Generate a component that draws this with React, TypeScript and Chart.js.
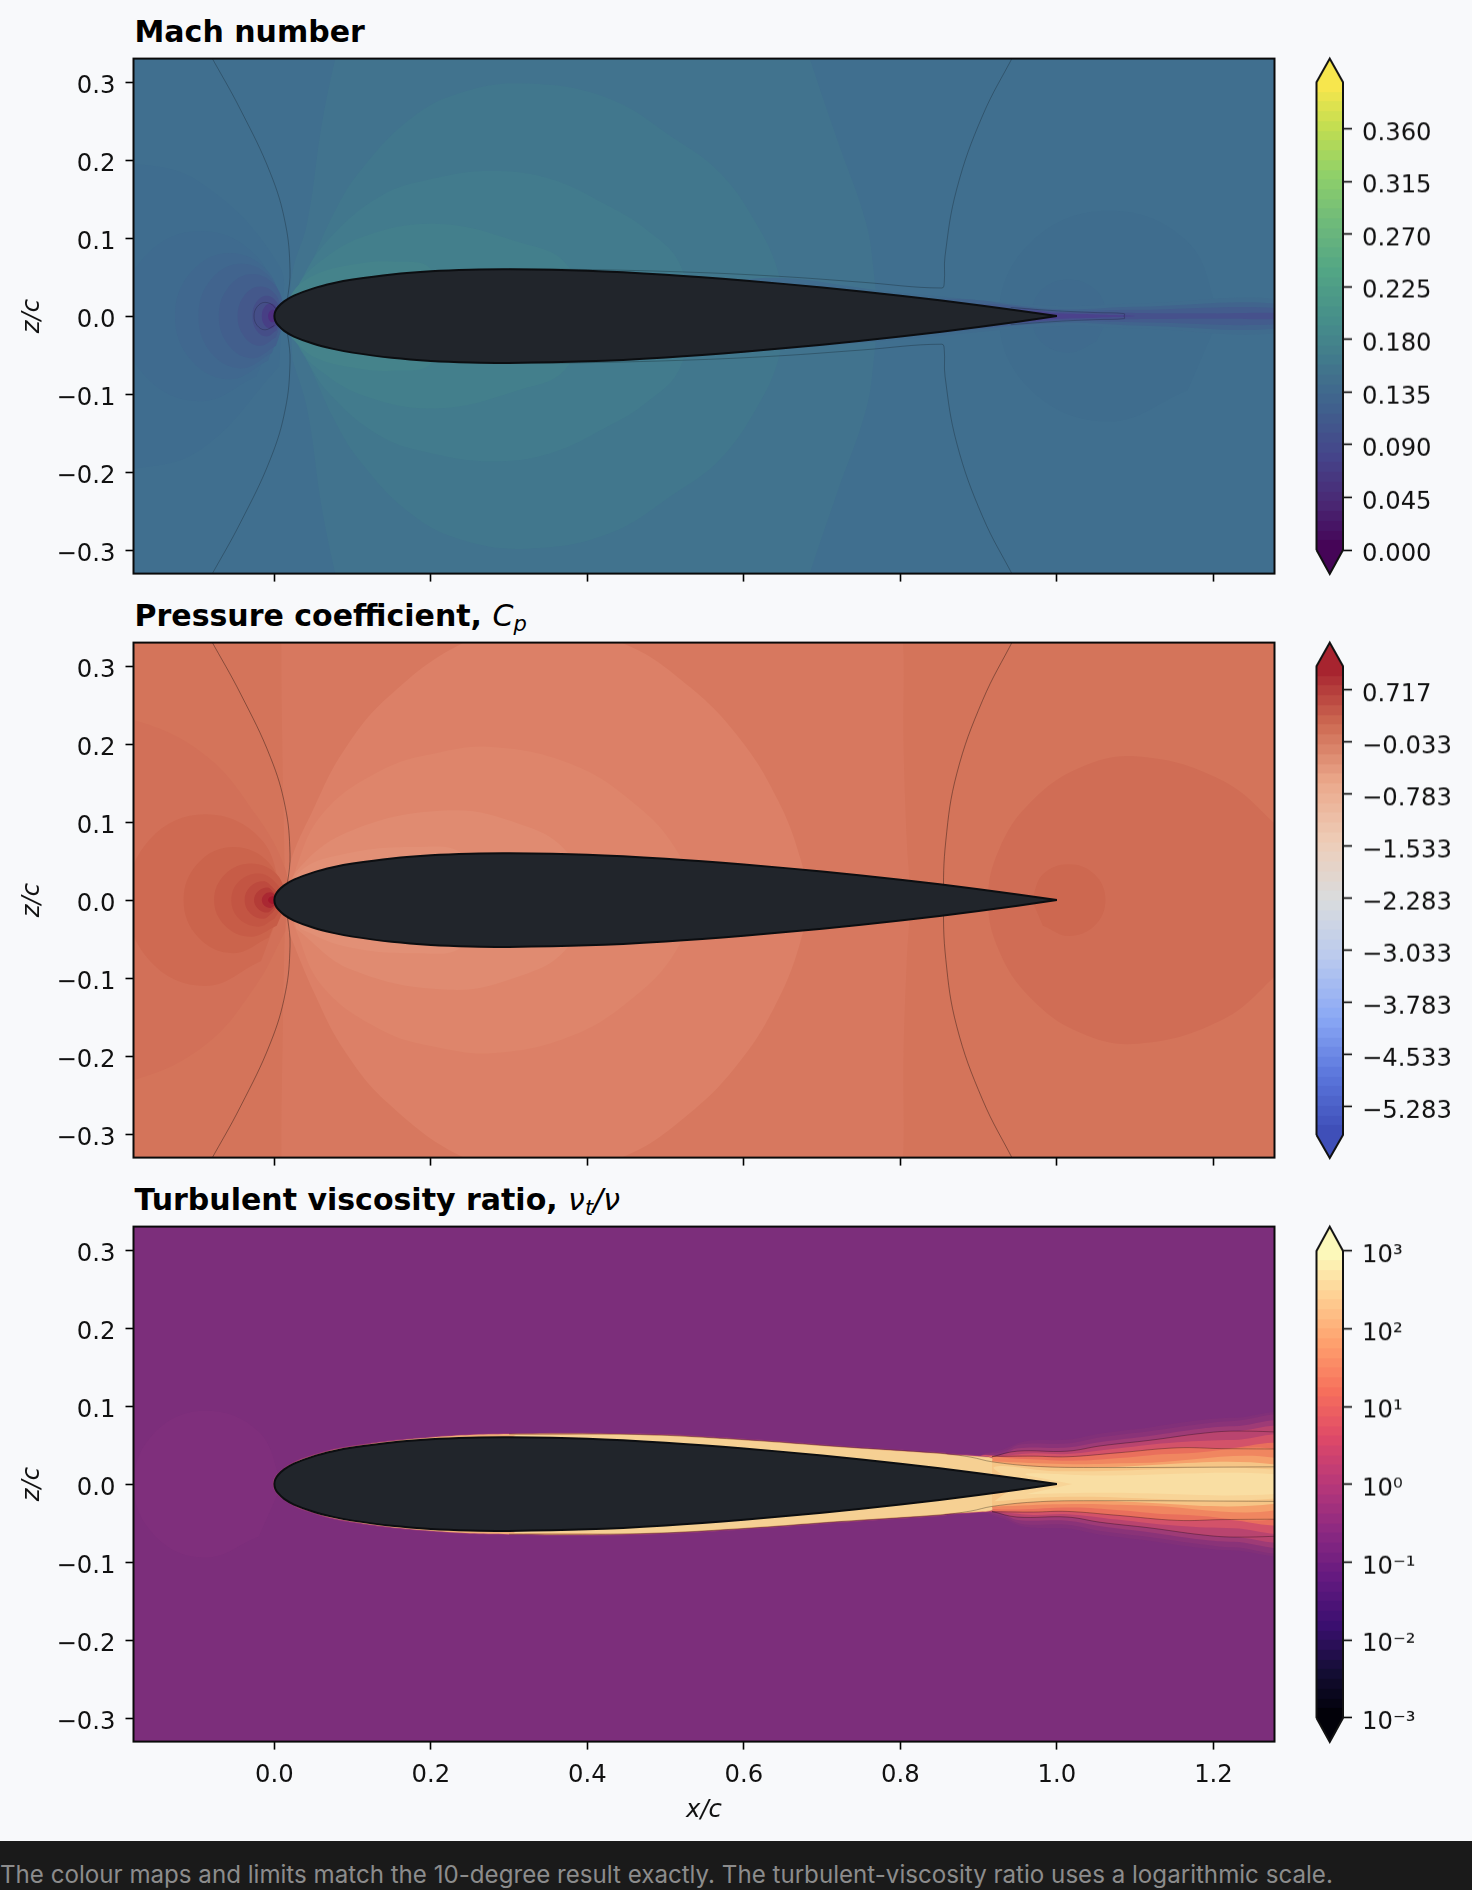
import React, { useEffect, useRef } from "react";
import { Chart, registerables } from "chart.js";

Chart.register(...registerables);
Chart.defaults.font.family = "'DejaVu Sans'";

type Pt = [number, number];

const xTicks = [0, 0.2, 0.4, 0.6, 0.8, 1.0, 1.2];
const zTicks = [-0.3, -0.2, -0.1, 0, 0.1, 0.2, 0.3];

// half of the section, trailing edge round to the nose
const foilUpper: Pt[] = [
  [1.0, 0], [0.9, 0.014], [0.8, 0.0262], [0.7, 0.0366], [0.6, 0.0456], [0.5, 0.0529],
  [0.4, 0.058], [0.3, 0.06], [0.25, 0.0594], [0.2, 0.0574], [0.15, 0.0534], [0.1, 0.0468], [0.075, 0.042],
  [0.05, 0.0355], [0.025, 0.0262], [0.0125, 0.0189], [0.005, 0.012], [0.0012, 0.006], [0, 0],
];

// thin contour lines, shared by the Mach and Cp panels
const frontLine: Pt[] = [[-0.082, 0.335], [-0.043, 0.264], [-0.005, 0.183], [0.014, 0.119], [0.02, 0.059], [0.017, 0.024], [0.012, 0]];
const rearLineCp: Pt[] = [[0.945, 0.335], [0.905, 0.256], [0.872, 0.162], [0.858, 0.076], [0.855, 0]];
const rearLineMach: Pt[] = [
  [0.945, 0.335], [0.905, 0.257], [0.872, 0.163], [0.857, 0.077], [0.856, 0.043], [0.853, 0.036],
  [0.75, 0.0435], [0.644, 0.051], [0.522, 0.0566], [0.38, 0.06], [0.3, 0.0605],
];
const machWedgeLine: Pt[] = [[0.941, 0.011], [1.0, 0.0068], [1.05, 0.0045], [1.086, 0.0032], [1.086, 0]];
const machNoseRing: Pt[] = [[0.004, 0], [0.0, 0.012], [-0.012, 0.0176], [-0.022, 0.012], [-0.026, 0]];

// Mach number field
const machBase = "#406f8f";
const machZone1: Pt[] = [[0.02, 0], [0.023, 0.056], [0.042, 0.12], [0.061, 0.248], [0.08, 0.34], [0.09, 0.38], [0.67, 0.38], [0.681, 0.34], [0.719, 0.227], [0.756, 0.12], [0.766, 0.056], [0.77, 0]];
const machZone2: Pt[] = [[0.02, 0], [0.031, 0.034], [0.051, 0.077], [0.075, 0.13], [0.108, 0.184], [0.174, 0.253], [0.24, 0.287], [0.324, 0.298], [0.427, 0.279], [0.512, 0.227], [0.569, 0.184], [0.615, 0.12], [0.644, 0.056], [0.65, 0]];
const machZone3: Pt[] = [[0.02, 0], [0.033, 0.043], [0.07, 0.099], [0.136, 0.154], [0.202, 0.176], [0.277, 0.186], [0.352, 0.176], [0.427, 0.141], [0.475, 0.111], [0.517, 0.069], [0.53, 0]];
const machZone4: Pt[] = [[0.02, 0], [0.028, 0.034], [0.051, 0.064], [0.117, 0.103], [0.211, 0.118], [0.315, 0.094], [0.371, 0.069], [0.4, 0]];
const machZone5: Pt[] = [[0.02, 0], [0.022, 0.028], [0.05, 0.052], [0.1, 0.066], [0.15, 0.07], [0.2, 0.06], [0.2, 0]];
const machArc0: Pt[] = [[0.01, 0], [0.006, 0.065], [-0.094, 0.171], [-0.184, 0.196], [-0.3, 0.2], [-0.3, 0]];
const machArc1: Pt[] = [[0.01, 0], [-0.023, 0.077], [-0.094, 0.109], [-0.165, 0.077], [-0.194, 0]];
const machArc2: Pt[] = [[0.013, 0], [-0.008, 0.057], [-0.057, 0.081], [-0.106, 0.057], [-0.127, 0]];
const machArc3: Pt[] = [[0.013, 0], [-0.003, 0.047], [-0.042, 0.067], [-0.081, 0.047], [-0.097, 0]];
const machArc4: Pt[] = [[0.015, 0], [0.002, 0.038], [-0.028, 0.054], [-0.058, 0.038], [-0.071, 0]];
const machArc5: Pt[] = [[0.011, 0], [0.002, 0.027], [-0.018, 0.038], [-0.038, 0.027], [-0.047, 0]];
const machArc6: Pt[] = [[0.008, 0], [0.003, 0.018], [-0.01, 0.026], [-0.023, 0.018], [-0.028, 0]];
const machArc7: Pt[] = [[0.006, 0], [0.003, 0.011], [-0.005, 0.016], [-0.013, 0.011], [-0.016, 0]];
const machArc8: Pt[] = [[0.004, 0], [0.002, 0.006], [-0.002, 0.008], [-0.006, 0.006], [-0.008, 0]];
const machRearBig: Pt[] = [[1.208, 0], [1.167, 0.095], [1.067, 0.135], [0.967, 0.095], [0.926, 0]];
const machRearSmall: Pt[] = [[1.067, 0], [1.05, 0.033], [1.015, 0.047], [0.98, 0.033], [0.968, 0]];
const machWake0: Pt[] = [[0.6, 0], [0.6, 0.0465], [0.8, 0.03], [1.0, 0.013], [1.1, 0.016], [1.3, 0.019]];
const machWake1: Pt[] = [[0.8, 0], [0.85, 0.022], [1.0, 0.009], [1.1, 0.012], [1.3, 0.014]];
const machWake2: Pt[] = [[0.9, 0], [0.9, 0.015], [1.0, 0.0065], [1.1, 0.008], [1.3, 0.009]];
const machWake3: Pt[] = [[0.95, 0], [0.95, 0.009], [1.0, 0.0055], [1.1, 0.004], [1.2, 0.0035], [1.3, 0.003]];
const machWake4: Pt[] = [[0.97, 0], [0.97, 0.006], [1.0, 0.0035], [1.05, 0.002], [1.1, 0]];
const machShapes = [machZone1, machZone2, machZone3, machZone4, machZone5, machArc0, machArc1, machArc2, machArc3, machArc4, machArc5, machArc6, machArc7, machArc8, machRearBig, machRearSmall, machWake0, machWake1, machWake2, machWake3, machWake4];
const machFills = ["#41738e", "#41778d", "#427b8d", "#437f8c", "#45838b", "#3f6d8f", "#3f6b8f", "#40688f", "#41648e", "#425f8d", "#44588b", "#454e88", "#473f85", "#4e2e80", "#3f6d8e", "#3f6b8e", "#406c8e", "#41648d", "#435c8d", "#46518c", "#4b428c"];

// Pressure coefficient field
const cpBase = "#d4745a";
const cpZone1: Pt[] = [[0.013, 0], [0.013, 0.05], [0.011, 0.15], [0.009, 0.34], [0.012, 0.38], [0.795, 0.38], [0.803, 0.34], [0.804, 0.2], [0.808, 0.08], [0.812, 0]];
const cpZone2: Pt[] = [[0.018, 0], [0.0185, 0.0416], [0.051, 0.119], [0.089, 0.192], [0.145, 0.26], [0.24, 0.329], [0.333, 0.354], [0.446, 0.329], [0.531, 0.273], [0.597, 0.204], [0.644, 0.127], [0.672, 0.054], [0.681, 0]];
const cpZone3: Pt[] = [[0.02, 0], [0.025, 0.033], [0.061, 0.11], [0.136, 0.166], [0.205, 0.188], [0.282, 0.196], [0.38, 0.174], [0.456, 0.127], [0.512, 0.067], [0.535, 0]];
const cpZone4: Pt[] = [[0.02, 0], [0.028, 0.037], [0.098, 0.089], [0.225, 0.115], [0.315, 0.097], [0.371, 0.065], [0.404, 0]];
const cpZone5: Pt[] = [[0.02, 0], [0.033, 0.037], [0.089, 0.059], [0.178, 0.068], [0.24, 0.059], [0.25, 0]];
const cpArc0: Pt[] = [[0.016, 0], [0.014, 0.04], [-0.024, 0.11], [-0.09, 0.187], [-0.184, 0.232], [-0.3, 0.25], [-0.3, 0]];
const cpArc1: Pt[] = [[0.012, 0], [-0.017, 0.078], [-0.088, 0.11], [-0.159, 0.078], [-0.188, 0]];
const cpArc2: Pt[] = [[0.012, 0], [-0.007, 0.048], [-0.052, 0.068], [-0.097, 0.048], [-0.116, 0]];
const cpArc3: Pt[] = [[0.017, 0], [0.003, 0.033], [-0.03, 0.047], [-0.063, 0.033], [-0.077, 0]];
const cpArc4: Pt[] = [[0.015, 0], [0, 0.024], [-0.02, 0.034], [-0.045, 0.024], [-0.055, 0]];
const cpArc5: Pt[] = [[0.01, 0], [-0.003, 0.017], [-0.014, 0.024], [-0.031, 0.017], [-0.038, 0]];
const cpArc6: Pt[] = [[0.008, 0], [-0.002, 0.011], [-0.009, 0.016], [-0.021, 0.011], [-0.026, 0]];
const cpArc7: Pt[] = [[0.006, 0], [0, 0.007], [-0.005, 0.01], [-0.013, 0.007], [-0.016, 0]];
const cpArc8: Pt[] = [[0.004, 0], [0.001, 0.0035], [-0.002, 0.005], [-0.006, 0.0035], [-0.008, 0]];
const cpRearBig: Pt[] = [[1.33, 0], [1.316, 0.05], [1.274, 0.102], [1.208, 0.155], [1.104, 0.184], [1.03, 0.17], [0.966, 0.125], [0.926, 0.065], [0.912, 0]];
const cpRearSmall: Pt[] = [[0.968, 0], [0.982, 0.033], [1.015, 0.046], [1.048, 0.033], [1.062, 0]];
const cpShapes = [cpZone1, cpZone2, cpZone3, cpZone4, cpZone5, cpArc0, cpArc1, cpArc2, cpArc3, cpArc4, cpArc5, cpArc6, cpArc7, cpArc8, cpRearBig, cpRearSmall];
const cpFills = ["#d7785f", "#dc8067", "#de856b", "#e08b71", "#e29076", "#d27058", "#cf6a52", "#cb644c", "#c75c47", "#c35543", "#bd4a3e", "#b43c37", "#aa2832", "#a4172c", "#d06d55", "#cd6850"];

// Turbulent viscosity ratio field
const nutBase = "#7c2e7b";
const nutNose: Pt[] = [[0.01, 0], [-0.02, 0.067], [-0.088, 0.094], [-0.152, 0.067], [-0.18, 0]];
const nutFade1: Pt[] = [[0.9, 0], [0.9, 0.034], [0.93, 0.044], [0.96, 0.055], [1.013, 0.057], [1.056, 0.065], [1.12, 0.073], [1.184, 0.082], [1.226, 0.085], [1.3, 0.083]];
const nutFade2: Pt[] = [[0.9, 0], [0.9, 0.034], [0.93, 0.041], [0.955, 0.051], [1.013, 0.052], [1.056, 0.06], [1.12, 0.068], [1.184, 0.077], [1.226, 0.081], [1.3, 0.08]];
const nutFade3: Pt[] = [[0.9, 0], [0.9, 0.034], [0.93, 0.038], [0.95, 0.046], [1.013, 0.047], [1.056, 0.054], [1.12, 0.062], [1.184, 0.071], [1.226, 0.074], [1.3, 0.073]];
const nutLevel1: Pt[] = [[0.9, 0], [0.9, 0.034], [0.917, 0.035], [0.949, 0.0422], [1.013, 0.0422], [1.056, 0.049], [1.12, 0.0563], [1.184, 0.0649], [1.226, 0.0679], [1.3, 0.0662]];
const nutMid1: Pt[] = [[0.9, 0], [0.9, 0.034], [0.93, 0.036], [0.97, 0.0395], [1.013, 0.0385], [1.077, 0.0455], [1.154, 0.0535], [1.226, 0.0565], [1.3, 0.0555]];
const nutLevel2: Pt[] = [[0.9, 0], [0.9, 0.034], [0.917, 0.0345], [0.97, 0.0358], [1.013, 0.035], [1.077, 0.04], [1.154, 0.0465], [1.21, 0.0455], [1.3, 0.0448]];
const nutMid2: Pt[] = [[0.9, 0], [0.9, 0.032], [0.95, 0.0325], [1.02, 0.03], [1.08, 0.0335], [1.154, 0.039], [1.3, 0.037]];
const nutMid3: Pt[] = [[0.9, 0], [0.9, 0.03], [0.93, 0.0285], [1.02, 0.0255], [1.1, 0.027], [1.3, 0.029]];
const nutLevel3: Pt[] = [[0.864, 0], [0.864, 0.035], [0.917, 0.0286], [0.97, 0.023], [1.034, 0.0213], [1.3, 0.0222]];
const nutEdge: Pt[] = [[0.917, 0], [0.917, 0.031], [0.917, 0.0345], [0.9, 0.0368], [0.864, 0.0392], [0.851, 0.0408], [0.7236, 0.0493], [0.596, 0.0585], [0.468, 0.0648], [0.3, 0.0652], [0.2, 0.0608], [0.1, 0.0495], [0.05, 0.0378], [0.0125, 0.0208], [-0.002, 0]];
const nutSkin: Pt[] = [[0.917, 0], [0.917, 0.03], [0.917, 0.0338], [0.9, 0.0358], [0.864, 0.038], [0.851, 0.0395], [0.7236, 0.048], [0.596, 0.0572], [0.468, 0.0635], [0.3, 0.0642], [0.2, 0.0598], [0.1, 0.0482], [0.05, 0.0365], [0.0125, 0.0195], [-0.0005, 0]];
const nutCream: Pt[] = [[0.917, 0], [0.917, 0.029], [0.917, 0.0328], [0.9, 0.0348], [0.864, 0.037], [0.851, 0.0385], [0.7236, 0.047], [0.596, 0.0562], [0.468, 0.0626], [0.33, 0.0628], [0.312, 0.0628], [0.306, 0.0615], [0.304, 0.055], [0.302, 0.04], [0.3, 0]];
const nutCore1: Pt[] = [[0.95, 0], [0.92, 0.022], [1.0, 0.0165], [1.3, 0.0165]];
const nutCore2: Pt[] = [[1.02, 0], [0.96, 0.013], [1.05, 0.011], [1.3, 0.011]];
const nutShapes = [nutNose, nutFade1, nutFade2, nutFade3, nutLevel1, nutMid1, nutLevel2, nutMid2, nutMid3, nutLevel3, nutEdge, nutSkin, nutCream, nutCore1, nutCore2];
const nutFills = ["#7f2f7c", "#813079", "#8a3378", "#9e3b76", "#b9446f", "#d35269", "#e96f5c", "#f08660", "#f5a06b", "#f6c586", "#a03c77", "#eeae76", "#f6d093", "#f8d497", "#f9dea3"];
const nutLine1: Pt[] = [[0.917, 0.035], [0.949, 0.0422], [1.013, 0.0422], [1.056, 0.049], [1.12, 0.0563], [1.184, 0.0649], [1.226, 0.0679], [1.3, 0.0662]];
const nutLine2: Pt[] = [[0.917, 0.0355], [0.97, 0.0358], [1.013, 0.035], [1.077, 0.04], [1.154, 0.0465], [1.21, 0.0455], [1.3, 0.0448]];
const nutLine3: Pt[] = [[0.3, 0.0642], [0.468, 0.0635], [0.596, 0.0572], [0.7236, 0.048], [0.851, 0.0395], [0.89, 0.0345], [0.917, 0.0286], [0.97, 0.023], [1.034, 0.0213], [1.3, 0.0222]];

// colour bars
const machBarTicks = [0, 0.045, 0.09, 0.135, 0.18, 0.225, 0.27, 0.315, 0.36];
const machBarLabels = ["0.000", "0.045", "0.090", "0.135", "0.180", "0.225", "0.270", "0.315", "0.360"];
const machBarRange = { tipLow: -0.0205, low: 0, high: 0.4, tipHigh: 0.42 };
const cpBarTicks = [-5.283, -4.533, -3.783, -3.033, -2.283, -1.533, -0.783, -0.033, 0.717];
const cpBarLabels = ["\u22125.283", "\u22124.533", "\u22123.783", "\u22123.033", "\u22122.283", "\u22121.533", "\u22120.783", "\u22120.033", "0.717"];
const cpBarRange = { tipLow: -6.02, low: -5.69, high: 1.057, tipHigh: 1.394 };
const nutBarTicks = [0.001, 0.01, 0.1, 1, 10, 100, 1000];
const nutBarLabels = ["10\u207B\u00B3", "10\u207B\u00B2", "10\u207B\u00B9", "10\u2070", "10\u00B9", "10\u00B2", "10\u00B3"];
const nutBarRange = { tipLow: 0.00049, low: 0.001, high: 1000, tipHigh: 2042 };

const viridisStops = ["#440154", "#4a2874", "#45458a", "#405f8d", "#41788c", "#47908a", "#53a685", "#6fba7a", "#8fd06a", "#c0dd51", "#fde74c"];
const coolwarmStops = ["#3d4bb5", "#5a75db", "#8aa8f5", "#b9c9ee", "#d9dcde", "#eecdb8", "#eba98c", "#cd6a52", "#a41e2c"];
const magmaStops = ["#000004", "#140e36", "#3b0f70", "#641a80", "#8c2981", "#b73779", "#de4968", "#f7705c", "#fe9f6d", "#fecf92", "#fcfdbf"];

const AREA_H = 515;
const PAD_TOP = 58.6;
const PAD_BOTTOM = 26;
const TICK_FONT = { size: 24.3, lineHeight: 0.4 };

const toXY = (pts: Pt[]) => pts.map(([x, y]) => ({ x, y }));
const flip = (pts: Pt[]): Pt[] => pts.map(([x, y]) => [x, -y] as Pt);
// upper half plus its reflection, as one closed outline
const both = (upper: Pt[]): Pt[] => [...upper, ...flip([...upper].reverse().filter((p) => p[1] !== 0))];

function region(pts: Pt[], color: string) {
  return {
    data: toXY(both(pts)),
    showLine: true,
    fill: "shape",
    tension: 0.4,
    backgroundColor: color,
    borderColor: "transparent",
    borderWidth: 0,
    pointRadius: 0,
  };
}

function contour(pts: Pt[], alpha: number) {
  return {
    data: toXY(pts),
    showLine: true,
    fill: false,
    tension: 0.4,
    borderColor: `rgba(0,0,0,${alpha})`,
    borderWidth: 1,
    pointRadius: 0,
  };
}

function foilDataset() {
  return {
    data: toXY([...both(foilUpper), foilUpper[0]]),
    showLine: true,
    fill: "shape",
    tension: 0.35,
    backgroundColor: "#21252b",
    borderColor: "#0c0e11",
    borderWidth: 2,
    pointRadius: 0,
  };
}

function hexToRgb(hex: string) {
  return [1, 3, 5].map((i) => parseInt(hex.slice(i, i + 2), 16));
}

function sampleStops(stops: string[], t: number) {
  const pos = Math.min(Math.max(t, 0), 1) * (stops.length - 1);
  const i = Math.min(Math.floor(pos), stops.length - 2);
  const a = hexToRgb(stops[i]);
  const b = hexToRgb(stops[i + 1]);
  const c = a.map((v, k) => Math.round(v + (b[k] - v) * (pos - i)));
  return `rgb(${c[0]},${c[1]},${c[2]})`;
}

function FieldChart(props: {
  top: number;
  height: number;
  base: string;
  datasets: any[];
  labelled?: boolean;
}) {
  const ref = useRef<HTMLCanvasElement | null>(null);

  useEffect(() => {
    if (!ref.current) return;
    const { base, datasets, labelled, height } = props;
    const total = datasets.length;
    const chart = new Chart(ref.current, {
      type: "scatter",
      data: { datasets: datasets.map((d, i) => ({ ...d, order: total - i })) },
      options: {
        responsive: false,
        animation: false,
        events: [],
        layout: { autoPadding: false, padding: { top: PAD_TOP, right: 15.5, left: 0, bottom: 0 } },
        plugins: { legend: { display: false }, tooltip: { enabled: false } },
        scales: {
          x: {
            type: "linear",
            min: -0.18,
            max: 1.278,
            afterBuildTicks: (s: any) => {
              s.ticks = xTicks.map((value) => ({ value }));
            },
            afterFit: (s: any) => {
              s.height = height - PAD_TOP - AREA_H;
            },
            border: { display: false },
            grid: { drawOnChartArea: false, color: "#000", tickLength: 8, tickWidth: 1.6 },
            ticks: {
              display: !!labelled,
              autoSkip: false,
              maxRotation: 0,
              padding: 11,
              color: "#111",
              font: { size: 24.3 },
              callback: (v: any) => Number(v).toFixed(1),
            },
            title: {
              display: !!labelled,
              text: "x/c",
              color: "#111",
              padding: { top: 4, bottom: 16 },
              font: { size: 24.3, style: "italic" },
            },
          },
          y: {
            type: "linear",
            min: -0.33,
            max: 0.33,
            afterBuildTicks: (s: any) => {
              s.ticks = zTicks.map((value) => ({ value }));
            },
            afterFit: (s: any) => {
              s.width = 133.5;
            },
            border: { display: false },
            grid: { drawOnChartArea: false, color: "#000", tickLength: 8, tickWidth: 1.6 },
            ticks: {
              autoSkip: false,
              padding: 10,
              color: "#111",
              font: TICK_FONT,
              // empty first line: drops the text to where matplotlib centres it
              callback: (v: any) => ["", Number(v).toFixed(1).replace("-", "\u2212")],
            },
            title: {
              display: true,
              text: "z/c",
              color: "#111",
              padding: { top: 18, bottom: 0 },
              font: { size: 24.3, style: "italic" },
            },
          },
        },
      } as any,
      plugins: [
        {
          id: "fieldFrame",
          beforeDatasetsDraw(c: any) {
            const a = c.chartArea;
            c.ctx.save();
            c.ctx.fillStyle = base;
            c.ctx.fillRect(a.left, a.top, a.width, a.height);
            c.ctx.restore();
          },
          afterDraw(c: any) {
            const a = c.chartArea;
            c.ctx.save();
            c.ctx.strokeStyle = "#0a0a0a";
            c.ctx.lineWidth = 2;
            c.ctx.strokeRect(a.left, a.top, a.width, a.height);
            c.ctx.restore();
          },
        },
      ],
    });
    return () => chart.destroy();
  }, []);

  return (
    <canvas
      ref={ref}
      width={1290}
      height={props.height}
      style={{ position: "absolute", left: 0, top: props.top, width: 1290, height: props.height }}
    />
  );
}

function ColorBar(props: {
  top: number;
  ticks: number[];
  labels: string[];
  range: { tipLow: number; low: number; high: number; tipHigh: number };
  stops: string[];
  log?: boolean;
}) {
  const ref = useRef<HTMLCanvasElement | null>(null);

  useEffect(() => {
    if (!ref.current) return;
    const { ticks, labels, range, stops, log } = props;
    const outline = [
      { x: 0, y: range.low },
      { x: 0, y: range.high },
      { x: 0.5, y: range.tipHigh },
      { x: 1, y: range.high },
      { x: 1, y: range.low },
      { x: 0.5, y: range.tipLow },
      { x: 0, y: range.low },
    ];
    const chart = new Chart(ref.current, {
      type: "scatter",
      data: {
        datasets: [
          {
            data: outline,
            showLine: true,
            fill: "shape",
            clip: false,
            tension: 0,
            borderColor: "#111",
            borderWidth: 2,
            pointRadius: 0,
            backgroundColor: (ctx: any) => {
              const y = ctx.chart.scales.y;
              if (!y || !ctx.chart.chartArea) return stops[0];
              const g = ctx.chart.ctx.createLinearGradient(0, y.getPixelForValue(range.low), 0, y.getPixelForValue(range.high));
              const n = 48;
              for (let k = 0; k < n; k++) {
                const col = sampleStops(stops, (k + 0.5) / n);
                g.addColorStop(k / n, col);
                g.addColorStop((k + 1) / n, col);
              }
              return g;
            },
          },
        ],
      } as any,
      options: {
        responsive: false,
        animation: false,
        events: [],
        layout: { autoPadding: false, padding: { top: PAD_TOP, bottom: PAD_BOTTOM, left: 16.5, right: 0 } },
        plugins: { legend: { display: false }, tooltip: { enabled: false } },
        scales: {
          x: { type: "linear", display: false, min: 0, max: 1 },
          y: {
            type: log ? "logarithmic" : "linear",
            position: "right",
            min: range.tipLow,
            max: range.tipHigh,
            afterBuildTicks: (s: any) => {
              s.ticks = ticks.map((value) => ({ value }));
            },
            afterFit: (s: any) => {
              s.width = 129;
            },
            border: { display: false },
            grid: { drawOnChartArea: false, color: "#000", tickLength: 9, tickWidth: 1.6 },
            ticks: {
              autoSkip: false,
              padding: 10,
              color: "#111",
              font: TICK_FONT,
              callback: (_v: any, i: number) => ["", labels[i]],
            },
          },
        },
      } as any,
    });
    return () => chart.destroy();
  }, []);

  return (
    <canvas
      ref={ref}
      width={172}
      height={PAD_TOP + AREA_H + PAD_BOTTOM}
      style={{ position: "absolute", left: 1300, top: props.top, width: 172, height: PAD_TOP + AREA_H + PAD_BOTTOM }}
    />
  );
}

function PanelTitle(props: { top: number; children: React.ReactNode }) {
  return (
    <div
      style={{
        position: "absolute",
        left: 134.5,
        top: props.top,
        fontFamily: "'DejaVu Sans'",
        fontWeight: "bold",
        fontSize: 30,
        lineHeight: "36px",
        color: "#000",
        whiteSpace: "nowrap",
      }}
    >
      {props.children}
    </div>
  );
}

const mathStyle: React.CSSProperties = { fontWeight: "normal", fontStyle: "italic" };
const subStyle: React.CSSProperties = { fontSize: "70%", verticalAlign: "-0.25em", lineHeight: 0 };

export default function App() {
  const machSets = [
    ...machShapes.map((s, i) => region(s, machFills[i])),
    contour(frontLine, 0.24),
    contour(flip(frontLine), 0.24),
    contour(both(machNoseRing), 0.2),
    contour(rearLineMach, 0.24),
    contour(flip(rearLineMach), 0.24),
    contour(both(machWedgeLine), 0.2),
    foilDataset(),
  ];
  const cpSets = [
    ...cpShapes.map((s, i) => region(s, cpFills[i])),
    contour(both(frontLine), 0.36),
    contour(both(rearLineCp), 0.36),
    foilDataset(),
  ];
  const nutSets = [
    ...nutShapes.map((s, i) => region(s, nutFills[i])),
    contour(nutLine1, 0.3),
    contour(flip(nutLine1), 0.3),
    contour(nutLine2, 0.3),
    contour(flip(nutLine2), 0.3),
    contour(nutLine3, 0.3),
    contour(flip(nutLine3), 0.3),
    foilDataset(),
  ];

  return (
    <div style={{ position: "absolute", left: 0, top: 0, width: 1472, height: 1890, background: "#f8f9fb", overflow: "hidden" }}>
      <PanelTitle top={14}>Mach number</PanelTitle>
      <PanelTitle top={598}>
        Pressure coefficient, <span style={mathStyle}>C<sub style={subStyle}>p</sub></span>
      </PanelTitle>
      <PanelTitle top={1182}>
        Turbulent viscosity ratio, <span style={mathStyle}>&#957;<sub style={subStyle}>t</sub>/&#957;</span>
      </PanelTitle>

      <FieldChart top={0} height={600} base={machBase} datasets={machSets} />
      <FieldChart top={584} height={600} base={cpBase} datasets={cpSets} />
      <FieldChart top={1168} height={673} base={nutBase} datasets={nutSets} labelled />

      <ColorBar top={0} ticks={machBarTicks} labels={machBarLabels} range={machBarRange} stops={viridisStops} />
      <ColorBar top={584} ticks={cpBarTicks} labels={cpBarLabels} range={cpBarRange} stops={coolwarmStops} />
      <ColorBar top={1168} ticks={nutBarTicks} labels={nutBarLabels} range={nutBarRange} stops={magmaStops} log />

      <div
        style={{
          position: "absolute",
          left: 0,
          top: 1841,
          width: 1472,
          height: 49,
          background: "#1a1a1a",
          color: "#8c8c8c",
          fontFamily: "Inter",
          fontSize: 24.13,
          lineHeight: "49px",
          paddingTop: 9,
          boxSizing: "border-box",
          whiteSpace: "nowrap",
        }}
      >
        The colour maps and limits match the 10-degree result exactly. The turbulent-viscosity ratio uses a logarithmic scale.
      </div>
    </div>
  );
}
